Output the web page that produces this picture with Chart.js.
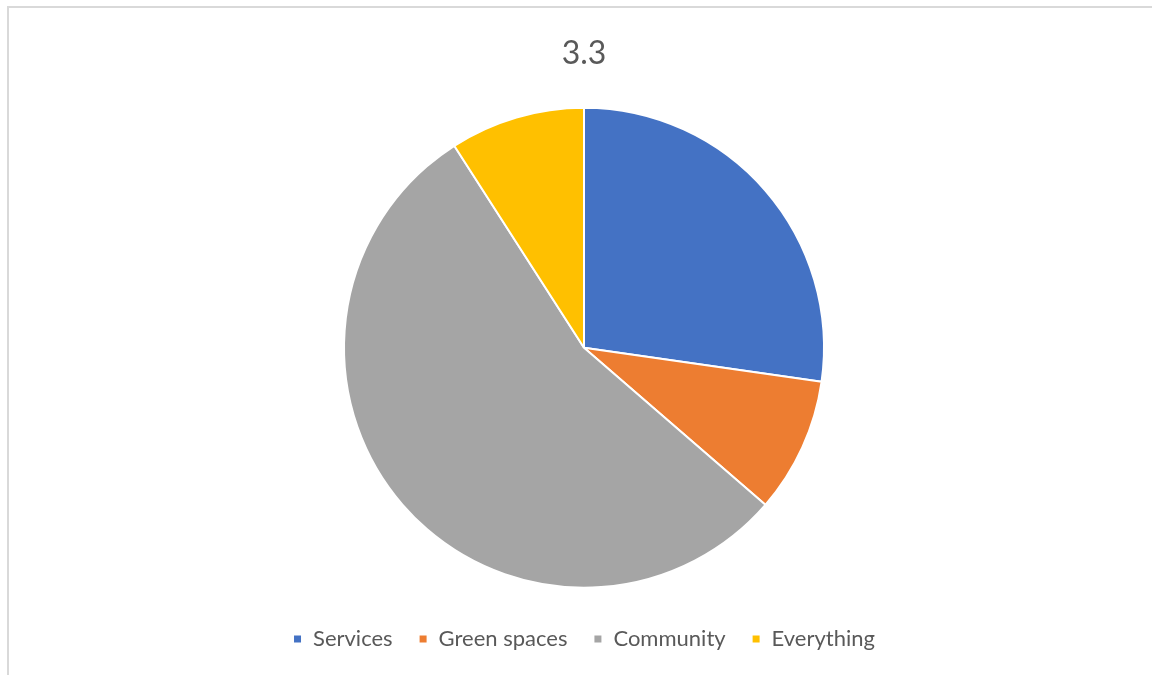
<!DOCTYPE html>
<html>
<head>
<meta charset="utf-8">
<script src="https://cdn.jsdelivr.net/npm/chart.js@4/dist/chart.umd.min.js"></script>
<style>
  html, body { margin: 0; padding: 0; background: #ffffff; overflow: hidden; }
  #wrap { position: relative; width: 1152px; height: 675px; }
  #frame { position: absolute; left: 7px; top: 6px; width: 1300px; height: 800px;
           border: 2px solid #d9d9d9; box-sizing: border-box; }
  canvas { position: absolute; left: 0; top: 0; }
</style>
</head>
<body>
<div id="wrap">
  <div id="frame"></div>
  <canvas id="chart" width="1152" height="675"></canvas>
</div>
<script>
const chartTitle = '3.3';
const categories = ['Services', 'Green spaces', 'Community', 'Everything'];
const responses = [3, 1, 6, 1];
const sliceColors = ['#4472C4', '#ED7D31', '#A5A5A5', '#FFC000'];

const fontFamily = 'Lato, "Open Sans", sans-serif';

new Chart(document.getElementById('chart'), {
  type: 'pie',
  data: {
    labels: categories,
    datasets: [{
      data: responses,
      backgroundColor: sliceColors,
      borderColor: '#ffffff',
      borderWidth: 2,
      radius: 240
    }]
  },
  options: {
    responsive: false,
    animation: false,
    layout: { padding: { top: 34, bottom: 15, left: 16, right: 0 } },
    plugins: {
      title: {
        display: true,
        text: chartTitle,
        color: '#595959',
        font: { family: fontFamily, size: 32, weight: 'normal' },
        padding: { top: 0, bottom: 21 }
      },
      legend: {
        position: 'bottom',
        labels: {
          color: '#595959',
          font: { family: fontFamily, size: 22 },
          boxWidth: 9,
          boxHeight: 9,
          padding: 26
        }
      },
      tooltip: { enabled: false }
    }
  }
});
</script>
</body>
</html>
